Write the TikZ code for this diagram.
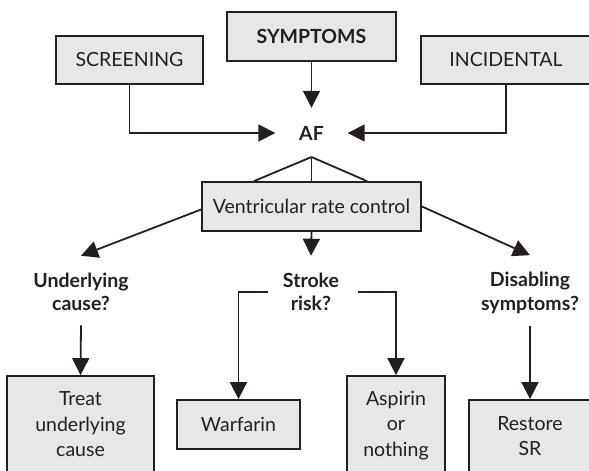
\documentclass[tikz,border=0pt]{standalone}
\usepackage{fontspec}
\setmainfont{Lato}
\usetikzlibrary{arrows.meta,calc}
\definecolor{boxfill}{HTML}{E6E7E8}
\definecolor{ink}{HTML}{231F20}
\begin{document}
\begin{tikzpicture}[x=1pt,y=-1pt,
  box/.style={draw=ink, line width=1.8pt, fill=boxfill, inner sep=0pt, align=center, text=ink, font=\fontsize{19.5}{25.5}\selectfont},
  qnode/.style={inner sep=0pt, align=center, text=ink, font=\fontsize{19.5}{23.5}\selectfont\bfseries},
  arr/.style={draw=ink, line width=1.8pt, -{Triangle[length=17pt,width=17pt]}},
  ln/.style={draw=ink, line width=1.8pt}]
\useasboundingbox (0,0) rectangle (589,471);
\clip (0,0) rectangle (589,471);
% top row
\node[box, minimum width=147pt, minimum height=48pt] (screen) at (129.5,60) {SCREENING};
\node[box, minimum width=169pt, minimum height=49pt, font=\fontsize{19.5}{25.5}\selectfont\bfseries] (sympt) at (311.5,36.5) {SYMPTOMS};
\node[box, minimum width=170pt, minimum height=48pt] (incid) at (506,60) {INCIDENTAL};
\node[qnode, minimum width=72pt, minimum height=50pt] (af) at (311.5,133) {AF};
\draw[arr] (sympt.south) -- (af.north);
\draw[arr] (screen.south) |- (af.west);
\draw[arr] (incid.south) |- (af.east);
% rate control
\node[box, minimum width=219pt, minimum height=49pt] (vent) at (311.5,206.5) {Ventricular rate control};
\coordinate (apex) at (311.5,157);
\draw[ln] (apex) -- ($(vent.north)+(-57.5,0)$);
\draw[ln] (apex) -- (vent.north);
\draw[ln] (apex) -- ($(vent.north)+(55.5,0)$);
% questions
\node[qnode] (under) at (81,292) {Underlying\\cause?};
\node[qnode] (stroke) at (311,292) {Stroke\\risk?};
\node[qnode] (disab) at (530,293) {Disabling\\symptoms?};
\draw[arr] ([yshift=-3pt]vent.west) -- ([yshift=17pt]under.north);
\draw[arr] (vent.south) -- ([yshift=17pt]stroke.north);
\draw[arr] (vent.east) -- ([yshift=17pt]disab.north);
% outcomes
\node[box, minimum width=147pt, minimum height=97pt] (treat) at (80.5,424.5) {Treat\\underlying\\cause};
\node[box, minimum width=123pt, minimum height=49pt] (warf) at (238.5,424.5) {Warfarin};
\node[box, minimum width=98pt, minimum height=99pt] (asp) at (396,425.5) {Aspirin\\or\\nothing};
\node[box, minimum width=122pt, minimum height=72pt] (rest) at (530,436) {Restore\\SR};
\draw[arr] ([yshift=-14pt]under.south) -- (treat.north);
\draw[arr] ([xshift=-43pt]stroke.center) -| (warf.north);
\draw[arr] ([xshift=47pt]stroke.center) -| (asp.north);
\draw[arr] ([yshift=-12pt]disab.south) -- (rest.north);
\end{tikzpicture}
\end{document}
